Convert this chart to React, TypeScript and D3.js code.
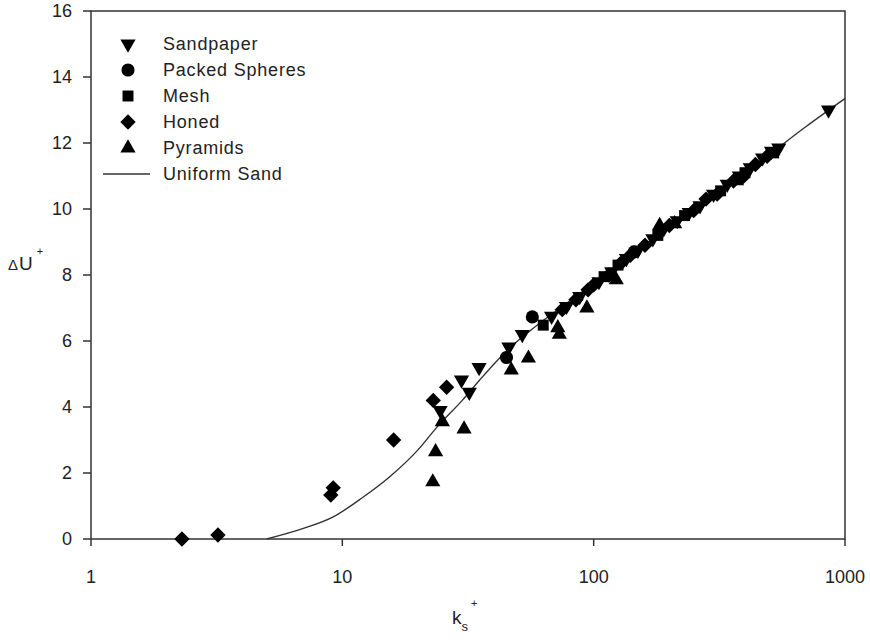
import React, { useRef, useEffect } from 'react';
import * as d3 from 'd3';

// [ks+, dU+] pairs
const sandpaper: [number, number][] = [
  [24.5, 3.9], [29.8, 4.82], [32, 4.45], [35, 5.2], [46, 5.82], [52, 6.2],
  [68, 6.75], [78, 7.05], [88, 7.35], [105, 7.8], [118, 8.1], [135, 8.5],
  [150, 8.75], [172, 9.1], [190, 9.4], [215, 9.65], [240, 9.9], [265, 10.1],
  [300, 10.45], [340, 10.75], [380, 11.0], [420, 11.25], [470, 11.55],
  [510, 11.75], [545, 11.85], [860, 13.0],
];
const packedSpheres: [number, number][] = [
  [45, 5.5], [57, 6.73], [145, 8.7],
];
const mesh: [number, number][] = [
  [63, 6.48], [110, 7.95], [125, 8.3], [180, 9.2], [230, 9.8], [320, 10.55],
  [400, 11.1], [520, 11.7],
];
const honed: [number, number][] = [
  [2.3, 0.0], [3.2, 0.12], [9.0, 1.33], [9.2, 1.55], [16, 3.0], [23, 4.2],
  [26, 4.6], [75, 6.95], [85, 7.25], [95, 7.55], [100, 7.7], [115, 8.0],
  [130, 8.4], [140, 8.6], [160, 8.9], [200, 9.5], [250, 9.95], [280, 10.3],
  [310, 10.45], [360, 10.85], [390, 10.95], [440, 11.35], [490, 11.6],
];
const pyramids: [number, number][] = [
  [22.9, 1.73], [23.5, 2.64], [25, 3.55], [30.5, 3.33], [47, 5.12], [55, 5.48],
  [72, 6.4], [73, 6.2], [94, 7.0], [123, 7.85], [183, 9.5], [210, 9.55],
  [370, 10.85],
];
const uniformSand: [number, number][] = [
  [5.0, 0], [7, 0.32], [9.2, 0.67], [12, 1.25], [15.4, 1.88], [20, 2.7],
  [23.8, 3.39], [30, 4.2], [35.2, 4.82], [45, 5.7], [60, 6.5], [80, 7.2],
  [100, 7.75], [200, 9.45], [300, 10.4], [500, 11.65], [700, 12.5], [1000, 13.35],
];

const xTicks = [1, 10, 100, 1000];
const yTicks = [0, 2, 4, 6, 8, 10, 12, 14, 16];

const legendItems = [
  { label: 'Sandpaper', kind: 'down' },
  { label: 'Packed Spheres', kind: 'circle' },
  { label: 'Mesh', kind: 'square' },
  { label: 'Honed', kind: 'diamond' },
  { label: 'Pyramids', kind: 'up' },
  { label: 'Uniform Sand', kind: 'line' },
];

const FONT = 'Arial, "Liberation Sans", sans-serif';

const markerPath = (kind: string) => {
  if (kind === 'down' || kind === 'up') return d3.symbol(d3.symbolTriangle, 100)();
  if (kind === 'circle') return d3.symbol(d3.symbolCircle, 135)();
  if (kind === 'square') return d3.symbol(d3.symbolSquare, 120)();
  return d3.symbol(d3.symbolSquare, 118)();
};
const markerRotate = (kind: string) => (kind === 'down' ? 180 : kind === 'diamond' ? 45 : 0);

const App = () => {
  const svgRef = useRef<SVGSVGElement>(null);

  useEffect(() => {
    const svg = d3.select(svgRef.current);
    svg.selectAll('*').remove();

    const left = 91, right = 845, top = 11, bottom = 539;
    const x = d3.scaleLog().domain([1, 1000]).range([left, right]);
    const y = d3.scaleLinear().domain([0, 16]).range([bottom, top]);

    // frame
    svg.append('rect')
      .attr('x', left).attr('y', top)
      .attr('width', right - left).attr('height', bottom - top)
      .attr('fill', 'none').attr('stroke', '#333').attr('stroke-width', 1.5);

    // y ticks + labels
    const yAxis = svg.append('g');
    yAxis.selectAll('line').data(yTicks).join('line')
      .attr('x1', left - 8).attr('x2', left)
      .attr('y1', d => y(d)).attr('y2', d => y(d))
      .attr('stroke', '#333').attr('stroke-width', 1.5);
    yAxis.selectAll('text').data(yTicks).join('text')
      .attr('x', 72).attr('y', d => y(d))
      .attr('dy', '0.35em').attr('text-anchor', 'end')
      .attr('font-family', FONT).attr('font-size', 18).attr('fill', '#222')
      .text(d => d);

    // x ticks + labels
    const xAxis = svg.append('g');
    xAxis.selectAll('line').data(xTicks).join('line')
      .attr('x1', d => x(d)).attr('x2', d => x(d))
      .attr('y1', bottom).attr('y2', bottom + 7)
      .attr('stroke', '#333').attr('stroke-width', 1.5);
    xAxis.selectAll('text').data(xTicks).join('text')
      .attr('x', d => x(d)).attr('y', 577)
      .attr('dy', '0.35em').attr('text-anchor', 'middle')
      .attr('font-family', FONT).attr('font-size', 18).attr('fill', '#222')
      .text(d => d);

    // axis titles
    const yt = svg.append('text').attr('font-family', FONT).attr('fill', '#222')
      .attr('x', 8).attr('y', 270);
    yt.append('tspan').attr('font-size', 15).text('Δ');
    yt.append('tspan').attr('font-size', 19).attr('dx', 1).text('U');
    yt.append('tspan').attr('font-size', 11).attr('dx', 4).attr('dy', -15).text('+');

    const xt = svg.append('text').attr('font-family', FONT).attr('fill', '#222')
      .attr('x', 452).attr('y', 624);
    xt.append('tspan').attr('font-size', 19).text('k');
    xt.append('tspan').attr('font-size', 13).attr('dy', 7).text('s');
    xt.append('tspan').attr('font-size', 11).attr('dx', 3).attr('dy', -24).text('+');

    // Uniform Sand curve
    const line = d3.line<[number, number]>()
      .x(d => x(d[0]))
      .y(d => y(d[1]))
      .curve(d3.curveMonotoneX);
    svg.append('path')
      .datum(uniformSand)
      .attr('fill', 'none').attr('stroke', '#333').attr('stroke-width', 1.4)
      .attr('d', line);

    // scatter series
    const series: [string, [number, number][]][] = [
      ['up', pyramids], ['square', mesh], ['circle', packedSpheres],
      ['diamond', honed], ['down', sandpaper],
    ];
    series.forEach(([kind, data]) => {
      svg.append('g').selectAll('path').data(data).join('path')
        .attr('d', markerPath(kind))
        .attr('transform', d => `translate(${x(d[0])},${y(d[1])}) rotate(${markerRotate(kind)})`)
        .attr('fill', '#000');
    });

    // legend
    const lg = svg.append('g');
    legendItems.forEach((item, i) => {
      const ly = 44 + i * 26;
      if (item.kind === 'line') {
        lg.append('line')
          .attr('x1', 103).attr('x2', 150).attr('y1', ly).attr('y2', ly)
          .attr('stroke', '#333').attr('stroke-width', 1.4);
      } else {
        lg.append('path')
          .attr('d', markerPath(item.kind))
          .attr('transform', `translate(128,${ly}) rotate(${markerRotate(item.kind)})`)
          .attr('fill', '#000');
      }
      lg.append('text')
        .attr('x', 163).attr('y', ly).attr('dy', '0.35em')
        .attr('font-family', FONT).attr('font-size', 18)
        .attr('letter-spacing', 0.8).attr('fill', '#222')
        .text(item.label);
    });
  }, []);

  return (
    <svg ref={svgRef} width={870} height={642}
      style={{ position: 'absolute', left: 0, top: 0, background: '#fff' }} />
  );
};

export default App;
